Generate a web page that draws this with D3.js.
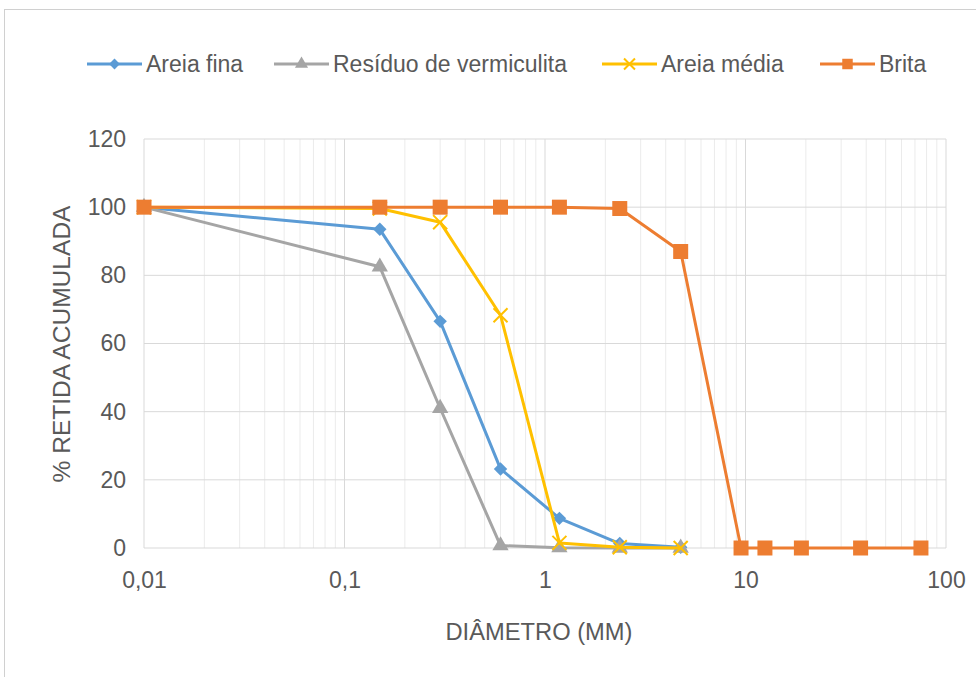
<!DOCTYPE html>
<html><head><meta charset="utf-8">
<script src="https://cdn.jsdelivr.net/npm/d3@7"></script>
<style>body{margin:0;background:#fff}svg{display:block}text{font-family:"Liberation Sans",Arial,sans-serif;fill:#595959}</style>
</head><body><svg id="c" width="976" height="677"></svg>
<script>
const diametros = [0.01, 0.15, 0.3, 0.6, 1.18, 2.36, 4.75];
const diametrosBrita = [0.01, 0.15, 0.3, 0.6, 1.18, 2.36, 4.75, 9.5, 12.5, 19, 37.5, 75];
const areiaFina = [100, 93.5, 66.5, 23.2, 8.7, 1.3, 0.2];
const residuoVermiculita = [100, 82.5, 41, 0.7, 0.1, 0, 0];
const areiaMedia = [100, 99.6, 95.6, 68.3, 1.5, 0.2, 0];
const brita = [100, 100, 100, 100, 100, 99.6, 87, 0, 0, 0, 0, 0];
const seriesNames = ["Areia fina", "Resíduo de vermiculita", "Areia média", "Brita"];
const xTicks = [0.01, 0.1, 1, 10, 100];
const xTickLabels = ["0,01", "0,1", "1", "10", "100"];
const yTicks = [0, 20, 40, 60, 80, 100, 120];

const colors = ["#5b9bd5", "#a5a5a5", "#ffc000", "#ed7d31"];
const symbols = [d3.symbolDiamond2, d3.symbolTriangle, d3.symbolTimes, d3.symbolSquare];
const symSizes = [115, 115, 130, 225];
const legSizes = [75, 75, 80, 110];
const series = [
  {name: seriesNames[0], xs: diametros, ys: areiaFina},
  {name: seriesNames[1], xs: diametros, ys: residuoVermiculita},
  {name: seriesNames[2], xs: diametros, ys: areiaMedia},
  {name: seriesNames[3], xs: diametrosBrita, ys: brita}
];
const FS = 23;

const svg = d3.select("#c");
svg.append("rect").attr("x",4.5).attr("y",9.5).attr("width",980).attr("height",700)
  .attr("fill","#fff").attr("stroke","#d0d0d0").attr("stroke-width",1);

const L = 144, R = 946, T = 139, B = 548;
const x = d3.scaleLog().domain([0.01, 100]).range([L, R]);
const y = d3.scaleLinear().domain([0, 120]).range([B, T]);

const minor = [];
for (let e = -2; e < 2; e++) for (let k = 2; k <= 9; k++) minor.push(k * Math.pow(10, e));
svg.append("g").selectAll("line").data(minor).join("line")
  .attr("x1", d => x(d)).attr("x2", d => x(d)).attr("y1", T).attr("y2", B)
  .attr("stroke", "#ebebeb").attr("stroke-width", 1);
svg.append("g").selectAll("line").data(xTicks).join("line")
  .attr("x1", d => x(d)).attr("x2", d => x(d)).attr("y1", T).attr("y2", B)
  .attr("stroke", "#d9d9d9").attr("stroke-width", 1);
svg.append("g").selectAll("line").data(yTicks).join("line")
  .attr("x1", L).attr("x2", R).attr("y1", d => y(d)).attr("y2", d => y(d))
  .attr("stroke", "#d9d9d9").attr("stroke-width", 1);

const xAxis = svg.append("g").attr("transform", `translate(0,${B})`)
  .call(d3.axisBottom(x).tickValues(xTicks).tickFormat((d, i) => xTickLabels[i]).tickSize(0).tickPadding(24));
xAxis.select(".domain").remove();
xAxis.selectAll("text").attr("font-size", FS).attr("fill", "#595959")
  .style("font-family", '"Liberation Sans",Arial,sans-serif');
const yAxis = svg.append("g").attr("transform", `translate(${L},0)`)
  .call(d3.axisLeft(y).tickValues(yTicks).tickSize(0).tickPadding(18));
yAxis.select(".domain").remove();
yAxis.selectAll("text").attr("font-size", FS).attr("fill", "#595959")
  .style("font-family", '"Liberation Sans",Arial,sans-serif');

svg.append("text").attr("x", 539).attr("y", 640).attr("text-anchor", "middle")
  .attr("font-size", FS).attr("textLength", 187).attr("lengthAdjust", "spacingAndGlyphs").text("DIÂMETRO (MM)");
svg.append("text").attr("transform", "translate(70,344) rotate(-90)").attr("text-anchor", "middle")
  .attr("font-size", FS).attr("textLength", 277).attr("lengthAdjust", "spacingAndGlyphs").text("% RETIDA ACUMULADA");

const line = d3.line().x(d => x(d[0])).y(d => y(d[1]));
series.forEach((s, i) => {
  const pts = s.xs.map((v, j) => [v, s.ys[j]]);
  const g = svg.append("g");
  g.append("path").datum(pts).attr("d", line).attr("fill", "none")
    .attr("stroke", colors[i]).attr("stroke-width", 3).attr("stroke-linejoin", "round");
  const sym = d3.symbol().type(symbols[i]).size(symSizes[i]);
  g.selectAll("path.m").data(pts).join("path").attr("class", "m")
    .attr("transform", d => `translate(${x(d[0])},${y(d[1])})`)
    .attr("d", sym)
    .attr("fill", i === 2 ? "none" : colors[i])
    .attr("stroke", colors[i]).attr("stroke-width", i === 2 ? 2 : 0);
});

const legX = [87, 274, 602, 820];
const lg = svg.append("g");
series.forEach((s, i) => {
  const g = lg.append("g").attr("transform", `translate(${legX[i]},64)`);
  g.append("line").attr("x1", 0).attr("x2", 55).attr("stroke", colors[i]).attr("stroke-width", 3);
  const sym = d3.symbol().type(symbols[i]).size(legSizes[i]);
  g.append("path").attr("d", sym).attr("transform", "translate(27.5,0)")
    .attr("fill", i === 2 ? "none" : colors[i]).attr("stroke", colors[i]).attr("stroke-width", i === 2 ? 2 : 0);
  g.append("text").attr("x", 59).attr("y", 8).attr("font-size", FS).text(s.name);
});
</script></body></html>
